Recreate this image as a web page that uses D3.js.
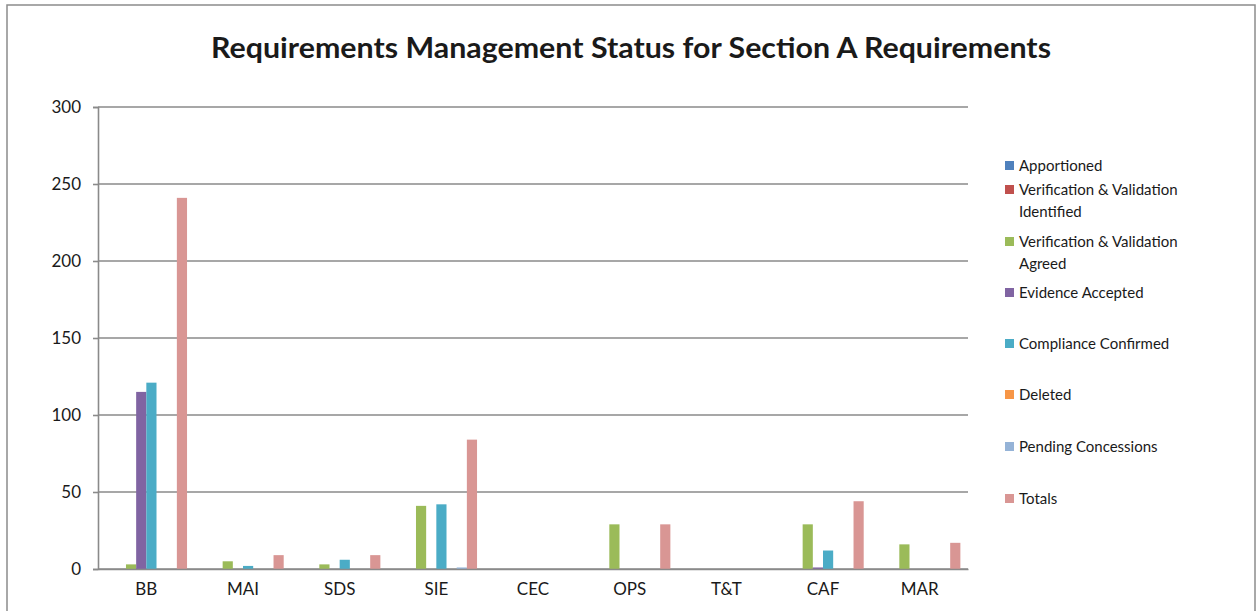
<!DOCTYPE html>
<html>
<head>
<meta charset="utf-8">
<script src="https://cdn.jsdelivr.net/npm/d3@7/dist/d3.min.js"></script>
<style>
  html, body { margin: 0; padding: 0; background: #fff; }
  svg { display: block; }
  text { font-family: Lato, "Open Sans", sans-serif; fill: #1a1a1a; }
</style>
</head>
<body>
<svg id="chart" width="1257" height="611"></svg>
<script>
const title = "Requirements Management Status for Section A Requirements";
const categories = ["BB", "MAI", "SDS", "SIE", "CEC", "OPS", "T&T", "CAF", "MAR"];
const seriesNames = ["Apportioned", "Verification & Validation Identified", "Verification & Validation Agreed", "Evidence Accepted", "Compliance Confirmed", "Deleted", "Pending Concessions", "Totals"];
const legendLines = [["Apportioned"], ["Verification & Validation", "Identified"], ["Verification & Validation", "Agreed"], ["Evidence Accepted"], ["Compliance Confirmed"], ["Deleted"], ["Pending Concessions"], ["Totals"]];
const seriesColors = ["#4F81BD", "#C0504D", "#9BBB59", "#8064A2", "#4BACC6", "#F79646", "#95B3D7", "#D99694"];
const apportioned  = [0, 0, 0, 0, 0, 0, 0, 0, 0];
const vvIdentified = [0, 0, 0, 0, 0, 0, 0, 0, 0];
const vvAgreed     = [3, 5, 3, 41, 0, 29, 0, 29, 16];
const evidence     = [115, 0, 0, 0, 0, 0, 0, 1, 0];
const compliance   = [121, 2, 6, 42, 0, 0, 0, 12, 0];
const deleted      = [0, 0, 0, 0, 0, 0, 0, 0, 0];
const pending      = [0, 0, 0, 1, 0, 0, 0, 0, 0];
const totals       = [241, 9, 9, 84, 0, 29, 0, 44, 17];
const yTicks = [0, 50, 100, 150, 200, 250, 300];

const seriesValues = [apportioned, vvIdentified, vvAgreed, evidence, compliance, deleted, pending, totals];

(function () {
const svg = d3.select("#chart");

// outer chart border
svg.append("rect").attr("x", 7).attr("y", 5).attr("width", 1248).attr("height", 620)
  .attr("fill", "#fff").attr("stroke", "#8c8c8c").attr("stroke-width", 1.5);

// title
const t = svg.append("text").attr("x", 631).attr("y", 58).attr("text-anchor", "middle")
  .attr("font-size", 28).attr("font-weight", "bold").text(title);
t.attr("textLength", 840).attr("lengthAdjust", "spacingAndGlyphs");

const pLeft = 98, pRight = 968, pTop = 107, pBottom = 569;
const x0 = d3.scaleBand().domain(categories).range([pLeft, pRight]).paddingInner(0).paddingOuter(0);
const bw = x0.bandwidth();
const groupW = bw * 8 / 9.5;
const x1 = d3.scaleBand().domain(seriesNames).range([(bw - groupW) / 2, (bw + groupW) / 2]).padding(0);
const y = d3.scaleLinear().domain([0, 300]).range([pBottom, pTop]);

// gridlines
svg.append("g").selectAll("line").data(yTicks).join("line")
  .attr("x1", pLeft).attr("x2", pRight)
  .attr("y1", d => y(d)).attr("y2", d => y(d))
  .attr("stroke", "#8a8a8a").attr("stroke-width", 1.6);

// y axis
const yAxis = d3.axisLeft(y).tickValues(yTicks).tickSize(5).tickPadding(12);
const gy = svg.append("g").attr("transform", `translate(${pLeft},0)`).call(yAxis);
gy.select(".domain").attr("stroke", "#8a8a8a").attr("stroke-width", 1.6);
gy.selectAll(".tick line").attr("stroke", "#8a8a8a").attr("stroke-width", 1.6);
gy.selectAll(".tick text").attr("font-size", 17).attr("fill", "#1a1a1a").attr("font-family", "Lato, sans-serif");

// bars
const groups = svg.append("g").selectAll("g").data(categories).join("g")
  .attr("transform", d => `translate(${x0(d)},0)`);
groups.selectAll("rect").data((c, ci) => seriesNames.map((s, si) => ({ s, si, v: seriesValues[si][ci] })))
  .join("rect")
  .attr("x", d => x1(d.s))
  .attr("width", x1.bandwidth())
  .attr("y", d => y(d.v))
  .attr("height", d => y(0) - y(d.v))
  .attr("fill", d => seriesColors[d.si]);

// x axis
const xAxis = d3.axisBottom(x0).tickSize(0).tickPadding(14);
const gx = svg.append("g").attr("transform", `translate(0,${pBottom})`).call(xAxis);
gx.select(".domain").attr("stroke", "#8a8a8a").attr("stroke-width", 1.6);
gx.selectAll(".tick text").attr("font-size", 17).attr("fill", "#1a1a1a").attr("font-family", "Lato, sans-serif");

// legend
const legendY = [166, 190, 242, 293, 344, 395, 447, 499];
const lg = svg.append("g");
seriesNames.forEach((s, i) => {
  const g = lg.append("g").attr("transform", `translate(1005,${legendY[i]})`);
  g.append("rect").attr("x", 0).attr("y", -5).attr("width", 9).attr("height", 9).attr("fill", seriesColors[i]);
  legendLines[i].forEach((ln, k) => {
    g.append("text").attr("x", 14).attr("y", 5 + k * 22).attr("font-size", 15).text(ln);
  });
});
})();
</script>
</body>
</html>
